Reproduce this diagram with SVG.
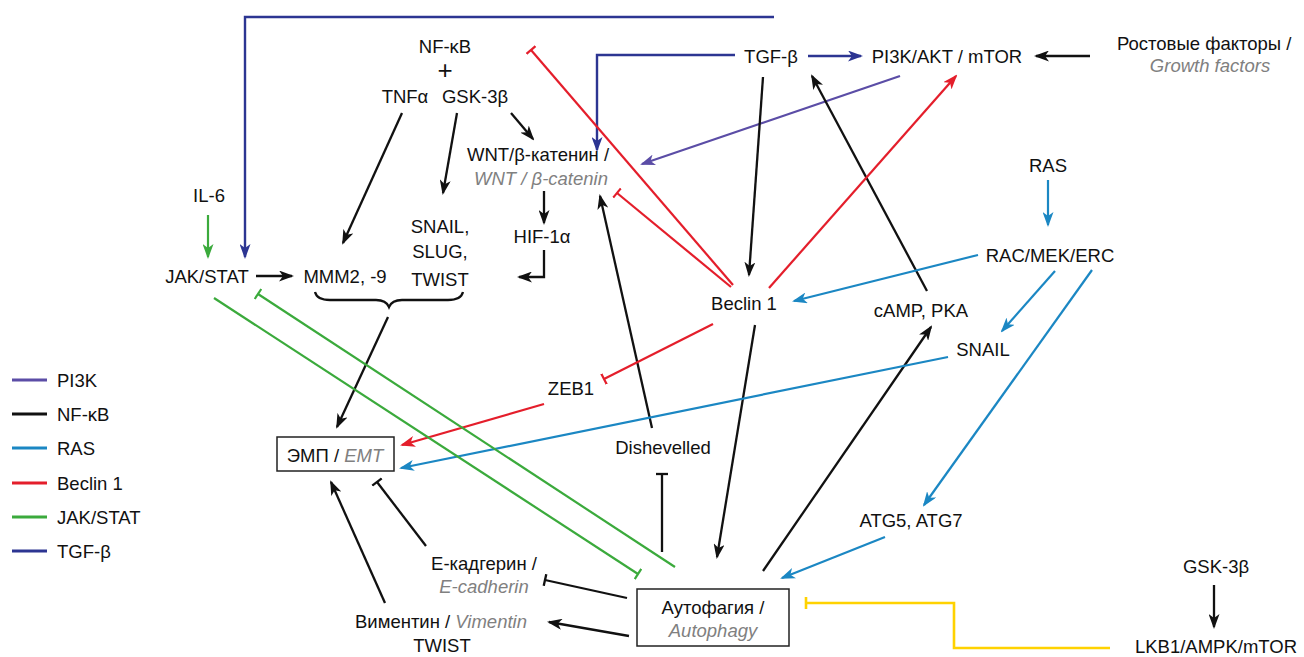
<svg xmlns="http://www.w3.org/2000/svg" width="1304" height="657" viewBox="0 0 1304 657">
<style>
text{font-family:"Liberation Sans",Arial,sans-serif;font-size:18.5px;fill:#111}
.m{text-anchor:middle}
.g{fill:#808080;font-style:italic}
.k{stroke:#111;stroke-width:2.3;fill:none}
.pu{stroke:#5B4DA6;stroke-width:2.2;fill:none}
.tb{stroke:#2C3592;stroke-width:2.4;fill:none}
.rs{stroke:#1B87C3;stroke-width:2.2;fill:none}
.rd{stroke:#E41E2B;stroke-width:2.2;fill:none}
.gr{stroke:#3BAA3C;stroke-width:2.2;fill:none}
.ye{stroke:#FFD200;stroke-width:2.6;fill:none}
.box{fill:#fff;stroke:#222;stroke-width:1.5}
</style>
<defs>
<marker id="ak" viewBox="0 0 15 11" markerWidth="15" markerHeight="11" refX="13" refY="5.5" orient="auto" markerUnits="userSpaceOnUse"><path d="M0,0L15,5.5L0,11L4,5.5z" fill="#111"/></marker>
<marker id="apu" viewBox="0 0 15 11" markerWidth="15" markerHeight="11" refX="13" refY="5.5" orient="auto" markerUnits="userSpaceOnUse"><path d="M0,0L15,5.5L0,11L4,5.5z" fill="#5B4DA6"/></marker>
<marker id="atb" viewBox="0 0 15 11" markerWidth="15" markerHeight="11" refX="13" refY="5.5" orient="auto" markerUnits="userSpaceOnUse"><path d="M0,0L15,5.5L0,11L4,5.5z" fill="#2C3592"/></marker>
<marker id="ars" viewBox="0 0 15 11" markerWidth="15" markerHeight="11" refX="13" refY="5.5" orient="auto" markerUnits="userSpaceOnUse"><path d="M0,0L15,5.5L0,11L4,5.5z" fill="#1B87C3"/></marker>
<marker id="ard" viewBox="0 0 15 11" markerWidth="15" markerHeight="11" refX="13" refY="5.5" orient="auto" markerUnits="userSpaceOnUse"><path d="M0,0L15,5.5L0,11L4,5.5z" fill="#E41E2B"/></marker>
<marker id="agr" viewBox="0 0 15 11" markerWidth="15" markerHeight="11" refX="13" refY="5.5" orient="auto" markerUnits="userSpaceOnUse"><path d="M0,0L15,5.5L0,11L4,5.5z" fill="#3BAA3C"/></marker>
<marker id="tk" viewBox="-2 -6 4 12" markerWidth="4" markerHeight="12" refX="0" refY="0" orient="auto" markerUnits="userSpaceOnUse"><path d="M0,-6V6" stroke="#111" stroke-width="2.3"/></marker>
<marker id="trd" viewBox="-2 -6 4 12" markerWidth="4" markerHeight="12" refX="0" refY="0" orient="auto" markerUnits="userSpaceOnUse"><path d="M0,-6V6" stroke="#E41E2B" stroke-width="2.2"/></marker>
<marker id="tgr" viewBox="-2 -6 4 12" markerWidth="4" markerHeight="12" refX="0" refY="0" orient="auto" markerUnits="userSpaceOnUse"><path d="M0,-6V6" stroke="#3BAA3C" stroke-width="2.2"/></marker>
<marker id="tye" viewBox="-2 -6 4 12" markerWidth="4" markerHeight="12" refX="0" refY="0" orient="auto" markerUnits="userSpaceOnUse"><path d="M0,-6V6" stroke="#FFD200" stroke-width="2.6"/></marker>
</defs>

<g id="connectors">
<!-- TGF-beta (dark blue) -->
<path class="tb" d="M774,17H245V257" marker-end="url(#atb)"/>
<path class="tb" d="M735,55H597V150" marker-end="url(#atb)"/>
<path class="tb" d="M808,56H861" marker-end="url(#atb)"/>
<!-- PI3K purple -->
<path class="pu" d="M900,76L642,164" marker-end="url(#apu)"/>
<!-- black -->
<path class="k" d="M1090,56H1036" marker-end="url(#ak)"/>
<path class="k" d="M763,77L749,275" marker-end="url(#ak)"/>
<path class="k" d="M927,291L812,76" marker-end="url(#ak)"/>
<path class="k" d="M402,113L343,243" marker-end="url(#ak)"/>
<path class="k" d="M457,113L443,193" marker-end="url(#ak)"/>
<path class="k" d="M511,113L533,139" marker-end="url(#ak)"/>
<path class="k" d="M544,191V223" marker-end="url(#ak)"/>
<path class="k" d="M544,250V277H519" marker-end="url(#ak)"/>
<path class="k" d="M256,276H292" marker-end="url(#ak)"/>
<path class="k" d="M315,292Q317,300 330,300H376Q386,300 389,307Q392,300 402,300H448Q461,300 463,292" stroke-width="2"/>
<path class="k" d="M388,317L337,427" marker-end="url(#ak)"/>
<path class="k" d="M652,428L600,196" marker-end="url(#ak)"/>
<path class="k" d="M755,325L717,557" marker-end="url(#ak)"/>
<path class="k" d="M763,571L931,327" marker-end="url(#ak)"/>
<path class="k" d="M662,552V474" marker-end="url(#tk)"/>
<path class="k" d="M426,546L377,482" marker-end="url(#tk)"/>
<path class="k" d="M385,603L331,482" marker-end="url(#ak)"/>
<path class="k" d="M627,598L545,580" marker-end="url(#tk)"/>
<path class="k" d="M629,636L549,622" marker-end="url(#ak)"/>
<path class="k" d="M1214,585V627" marker-end="url(#ak)"/>
<!-- Beclin 1 red -->
<path class="rd" d="M733,285L531,50" marker-end="url(#trd)"/>
<path class="rd" d="M731,287L617,193" marker-end="url(#trd)"/>
<path class="rd" d="M769,288L956,76" marker-end="url(#ard)"/>
<path class="rd" d="M713,324L604,379" marker-end="url(#trd)"/>
<path class="rd" d="M544,404L402,445" marker-end="url(#ard)"/>
<!-- RAS blue -->
<path class="rs" d="M1048,180V225" marker-end="url(#ars)"/>
<path class="rs" d="M978,255L794,301" marker-end="url(#ars)"/>
<path class="rs" d="M1055,271L1002,331" marker-end="url(#ars)"/>
<path class="rs" d="M1092,270L924,505" marker-end="url(#ars)"/>
<path class="rs" d="M948,357L401,468" marker-end="url(#ars)"/>
<path class="rs" d="M885,537L782,578" marker-end="url(#ars)"/>
<!-- JAK/STAT green -->
<path class="gr" d="M208,215V257" marker-end="url(#agr)"/>
<path class="gr" d="M675,567L258,294" marker-end="url(#tgr)"/>
<path class="gr" d="M214,298L638,574" marker-end="url(#tgr)"/>
<!-- yellow -->
<path class="ye" d="M1110,648H954V603H806" marker-end="url(#tye)"/>
</g>

<g id="n-nfkb"><text class="m" x="445" y="53">NF-κB</text><text class="m" x="445" y="79" style="font-size:26px">+</text></g>
<g id="n-tnfa"><text class="m" x="405" y="103">TNFα</text></g>
<g id="n-gsk3b"><text class="m" x="475" y="103">GSK-3β</text></g>
<g id="n-tgfb"><text class="m" x="771" y="63">TGF-β</text></g>
<g id="n-pi3k"><text class="m" x="947" y="63">PI3K/AKT / mTOR</text></g>
<g id="n-growth"><text x="1117" y="50">Ростовые факторы /</text><text class="m g" x="1210" y="72">Growth factors</text></g>
<g id="n-wnt"><text class="m" x="538" y="161">WNT/β-катенин /</text><text class="m g" x="541" y="185">WNT / β-catenin</text></g>
<g id="n-il6"><text class="m" x="209" y="202">IL-6</text></g>
<g id="n-ras"><text class="m" x="1048" y="172">RAS</text></g>
<g id="n-hif"><text class="m" x="542" y="243">HIF-1α</text></g>
<g id="n-snailslug"><text class="m" x="440" y="233">SNAIL,</text><text class="m" x="440" y="258">SLUG,</text><text class="m" x="440" y="286">TWIST</text></g>
<g id="n-jak"><text class="m" x="207" y="283">JAK/STAT</text></g>
<g id="n-mmm"><text class="m" x="345" y="283">MMM2, -9</text></g>
<g id="n-rac"><text class="m" x="1050" y="262">RAC/MEK/ERC</text></g>
<g id="n-beclin"><text class="m" x="744" y="310">Beclin 1</text></g>
<g id="n-camp"><text class="m" x="921" y="317">cAMP, PKA</text></g>
<g id="n-snail"><text class="m" x="983" y="356">SNAIL</text></g>
<g id="n-zeb1"><text class="m" x="571" y="395">ZEB1</text></g>
<g id="n-emt"><rect class="box" x="277" y="437" width="117" height="34"/><text class="m" x="335" y="462">ЭМП / <tspan class="g">EMT</tspan></text></g>
<g id="n-dishevelled"><text class="m" x="663" y="454">Dishevelled</text></g>
<g id="n-atg"><text class="m" x="911" y="527">ATG5, ATG7</text></g>
<g id="n-ecad"><text class="m" x="484" y="570">E-кадгерин /</text><text class="m g" x="484" y="593">E-cadherin</text></g>
<g id="n-gsk3b-2"><text class="m" x="1216" y="573">GSK-3β</text></g>
<g id="n-autophagy"><rect class="box" x="637" y="589" width="152" height="57"/><text class="m" x="713" y="614">Аутофагия /</text><text class="m g" x="713" y="637">Autophagy</text></g>
<g id="n-vim"><text class="m" x="441" y="628">Виментин / <tspan class="g">Vimentin</tspan></text><text class="m" x="442" y="652">TWIST</text></g>
<g id="n-lkb1"><text class="m" x="1216" y="653">LKB1/AMPK/mTOR</text></g>

<g id="legend">
<line x1="12" y1="380" x2="47" y2="380" stroke="#5B4DA6" stroke-width="3"/><text x="57" y="387">PI3K</text>
<line x1="12" y1="414" x2="47" y2="414" stroke="#111" stroke-width="3"/><text x="57" y="421">NF-κB</text>
<line x1="12" y1="448" x2="47" y2="448" stroke="#1B87C3" stroke-width="3"/><text x="57" y="455">RAS</text>
<line x1="12" y1="483" x2="47" y2="483" stroke="#E41E2B" stroke-width="3"/><text x="57" y="490">Beclin 1</text>
<line x1="12" y1="517" x2="47" y2="517" stroke="#3BAA3C" stroke-width="3"/><text x="57" y="524">JAK/STAT</text>
<line x1="12" y1="551" x2="47" y2="551" stroke="#2C3592" stroke-width="3"/><text x="57" y="558">TGF-β</text>
</g>
</svg>
